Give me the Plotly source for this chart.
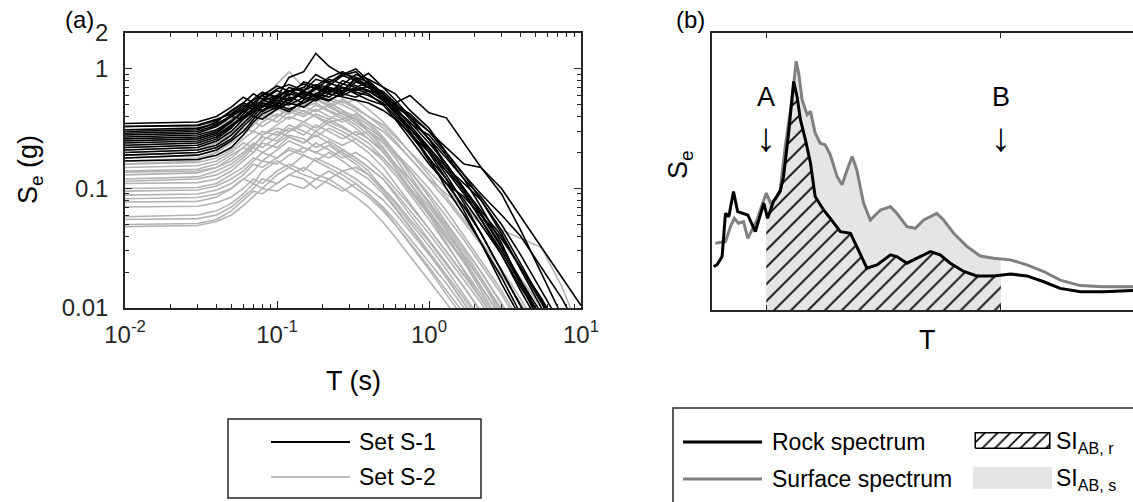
import numpy as np
import plotly.graph_objects as go

W, H = 1133, 502
FONT = "Liberation Sans, Arial, Helvetica, sans-serif"
AX = "#262626"

# ---------------- panel (a) data ----------------
periods = [0.01, 0.03, 0.04, 0.05, 0.06, 0.07, 0.08, 0.1, 0.12, 0.15, 0.18, 0.22, 0.27,
           0.33, 0.4, 0.5, 0.6, 0.75, 1.0, 1.3, 1.7, 2.2, 3.0, 4.0, 5.5, 7.5, 10.0]

set_s1 = [
    [0.30,0.31,0.36,0.45,0.52,0.48,0.62,0.58,0.85,0.95,1.35,1.05,0.90,1.00,0.80,0.62,0.45,0.30,0.18,0.10,0.060,0.035,0.018,0.009,0.005,0.003,0.002],
    [0.25,0.26,0.29,0.36,0.44,0.52,0.48,0.60,0.66,0.56,0.72,0.66,0.70,0.62,0.55,0.50,0.52,0.60,0.43,0.39,0.24,0.15,0.10,0.058,0.032,0.018,0.0105],
    [0.33,0.34,0.38,0.42,0.50,0.46,0.55,0.66,0.60,0.78,0.72,0.85,0.95,0.80,0.70,0.62,0.50,0.40,0.30,0.22,0.16,0.15,0.090,0.045,0.020,0.009,0.004],
    [0.35,0.36,0.40,0.48,0.58,0.52,0.60,0.72,0.65,0.70,0.90,0.78,0.88,0.95,0.75,0.60,0.45,0.32,0.20,0.12,0.065,0.035,0.016,0.008,0.004,0.002,0.001],
    [0.28,0.29,0.33,0.40,0.38,0.47,0.55,0.50,0.62,0.58,0.68,0.82,0.75,0.70,0.78,0.55,0.42,0.30,0.17,0.11,0.070,0.042,0.020,0.010,0.005,0.0025,0.0013],
    [0.22,0.23,0.26,0.32,0.42,0.50,0.45,0.55,0.52,0.65,0.60,0.72,0.88,0.80,0.92,0.70,0.55,0.40,0.26,0.15,0.095,0.055,0.028,0.014,0.007,0.0035,0.0018],
    [0.20,0.21,0.23,0.28,0.35,0.42,0.50,0.46,0.58,0.52,0.62,0.70,0.66,0.82,0.74,0.58,0.46,0.36,0.24,0.16,0.10,0.062,0.033,0.017,0.008,0.004,0.002],
    [0.17,0.175,0.19,0.22,0.28,0.36,0.42,0.48,0.44,0.55,0.62,0.58,0.70,0.64,0.60,0.52,0.40,0.28,0.18,0.12,0.080,0.050,0.028,0.015,0.008,0.004,0.002],
    [0.31,0.32,0.35,0.40,0.46,0.55,0.60,0.52,0.65,0.75,0.68,0.62,0.80,0.72,0.66,0.54,0.46,0.35,0.28,0.19,0.12,0.070,0.035,0.016,0.007,0.003,0.0015],
    [0.26,0.27,0.30,0.36,0.45,0.40,0.48,0.58,0.66,0.60,0.70,0.64,0.74,0.90,0.82,0.70,0.62,0.45,0.32,0.20,0.13,0.080,0.042,0.021,0.010,0.005,0.0025],
    [0.19,0.20,0.22,0.26,0.33,0.40,0.38,0.46,0.52,0.48,0.56,0.66,0.60,0.68,0.62,0.50,0.38,0.26,0.16,0.11,0.085,0.060,0.038,0.022,0.012,0.006,0.003],
    [0.24,0.25,0.28,0.34,0.40,0.47,0.44,0.52,0.50,0.58,0.54,0.62,0.58,0.55,0.52,0.45,0.38,0.29,0.20,0.14,0.10,0.065,0.040,0.022,0.011,0.0055,0.0028],
    [0.29,0.30,0.34,0.41,0.48,0.56,0.64,0.58,0.54,0.66,0.74,0.70,0.64,0.85,0.78,0.62,0.48,0.34,0.22,0.14,0.090,0.055,0.030,0.016,0.008,0.004,0.002],
    [0.18,0.19,0.21,0.25,0.30,0.38,0.45,0.50,0.46,0.52,0.58,0.54,0.64,0.70,0.65,0.55,0.44,0.32,0.21,0.13,0.075,0.042,0.020,0.010,0.005,0.0025,0.0012],
    [0.27,0.28,0.31,0.37,0.44,0.52,0.48,0.56,0.70,0.64,0.60,0.76,0.70,0.66,0.72,0.65,0.52,0.38,0.26,0.18,0.12,0.085,0.050,0.028,0.014,0.007,0.0035],
    [0.33,0.335,0.37,0.44,0.52,0.62,0.56,0.68,0.74,0.66,0.82,0.76,0.92,0.85,0.70,0.56,0.44,0.32,0.22,0.15,0.11,0.080,0.045,0.024,0.012,0.006,0.003],
    [0.21,0.22,0.25,0.30,0.38,0.44,0.52,0.48,0.56,0.62,0.58,0.68,0.62,0.58,0.66,0.60,0.50,0.42,0.30,0.20,0.13,0.090,0.060,0.040,0.022,0.012,0.006],
    [0.23,0.24,0.27,0.33,0.39,0.46,0.54,0.60,0.55,0.64,0.60,0.55,0.62,0.78,0.70,0.58,0.48,0.40,0.26,0.16,0.10,0.060,0.032,0.017,0.009,0.0045,0.0023],
]

set_s2 = [
    [0.16,0.17,0.20,0.28,0.36,0.45,0.55,0.75,0.95,0.70,0.60,0.52,0.45,0.40,0.30,0.22,0.15,0.10,0.060,0.035,0.020,0.012,0.0065,0.0035,0.0018,0.001,0.0005],
    [0.30,0.31,0.34,0.40,0.48,0.55,0.50,0.62,0.58,0.66,0.60,0.55,0.50,0.44,0.36,0.27,0.20,0.13,0.075,0.045,0.026,0.015,0.008,0.0045,0.0022,0.0012,0.0006],
    [0.28,0.29,0.33,0.38,0.45,0.42,0.52,0.60,0.55,0.50,0.58,0.48,0.42,0.38,0.30,0.22,0.16,0.11,0.065,0.040,0.024,0.014,0.0075,0.004,0.002,0.001,0.0005],
    [0.25,0.26,0.29,0.33,0.40,0.47,0.44,0.50,0.56,0.48,0.52,0.45,0.40,0.34,0.28,0.21,0.16,0.11,0.070,0.045,0.028,0.017,0.009,0.005,0.0025,0.0013,0.0007],
    [0.23,0.24,0.27,0.30,0.36,0.42,0.40,0.46,0.52,0.48,0.44,0.50,0.42,0.36,0.30,0.24,0.18,0.12,0.075,0.048,0.030,0.018,0.010,0.0055,0.0028,0.0014,0.0007],
    [0.21,0.22,0.24,0.28,0.34,0.38,0.44,0.40,0.48,0.44,0.40,0.36,0.38,0.32,0.26,0.20,0.15,0.10,0.062,0.040,0.025,0.015,0.0085,0.0045,0.0022,0.0011,0.0006],
    [0.19,0.20,0.22,0.26,0.32,0.30,0.36,0.42,0.38,0.45,0.40,0.34,0.30,0.26,0.22,0.17,0.13,0.090,0.055,0.034,0.021,0.013,0.007,0.0038,0.0019,0.001,0.0005],
    [0.17,0.18,0.20,0.24,0.28,0.34,0.40,0.36,0.44,0.40,0.46,0.40,0.36,0.40,0.34,0.26,0.20,0.14,0.085,0.052,0.032,0.020,0.011,0.006,0.003,0.0015,0.0008],
    [0.16,0.165,0.18,0.21,0.26,0.30,0.28,0.34,0.40,0.36,0.32,0.38,0.33,0.28,0.24,0.18,0.14,0.095,0.060,0.038,0.024,0.015,0.0085,0.0047,0.0024,0.0012,0.0006],
    [0.15,0.155,0.17,0.20,0.24,0.22,0.28,0.32,0.30,0.36,0.42,0.38,0.44,0.38,0.32,0.26,0.20,0.15,0.10,0.065,0.040,0.025,0.014,0.0075,0.0037,0.0018,0.0009],
    [0.14,0.145,0.16,0.19,0.22,0.26,0.30,0.28,0.34,0.30,0.27,0.32,0.28,0.24,0.20,0.15,0.11,0.075,0.046,0.030,0.019,0.012,0.0065,0.0035,0.0018,0.0009,0.0005],
    [0.137,0.14,0.15,0.17,0.20,0.24,0.22,0.27,0.32,0.28,0.34,0.30,0.26,0.30,0.26,0.21,0.16,0.12,0.078,0.050,0.032,0.020,0.011,0.006,0.003,0.0015,0.0008],
    [0.13,0.135,0.15,0.18,0.22,0.20,0.25,0.30,0.27,0.24,0.28,0.24,0.20,0.17,0.14,0.10,0.075,0.052,0.033,0.021,0.013,0.0082,0.0045,0.0024,0.0012,0.0006,0.0003],
    [0.12,0.125,0.14,0.16,0.19,0.23,0.27,0.25,0.30,0.34,0.30,0.36,0.32,0.28,0.30,0.25,0.19,0.14,0.090,0.058,0.037,0.023,0.013,0.007,0.0035,0.0018,0.0009],
    [0.115,0.12,0.13,0.15,0.18,0.22,0.20,0.24,0.28,0.26,0.22,0.25,0.21,0.18,0.15,0.12,0.088,0.060,0.037,0.024,0.015,0.0094,0.0052,0.0028,0.0014,0.0007,0.0004],
    [0.11,0.112,0.12,0.14,0.17,0.20,0.24,0.22,0.27,0.24,0.30,0.26,0.23,0.26,0.22,0.18,0.14,0.10,0.065,0.042,0.027,0.017,0.0095,0.005,0.0025,0.0013,0.0007],
    [0.10,0.102,0.11,0.13,0.15,0.18,0.17,0.21,0.25,0.22,0.20,0.23,0.19,0.16,0.13,0.095,0.070,0.048,0.030,0.019,0.012,0.0075,0.0041,0.0022,0.0011,0.0006,0.0003],
    [0.095,0.097,0.105,0.12,0.14,0.17,0.20,0.18,0.22,0.20,0.24,0.21,0.18,0.20,0.17,0.13,0.10,0.072,0.046,0.030,0.019,0.012,0.0066,0.0035,0.0018,0.0009,0.0005],
    [0.088,0.09,0.097,0.11,0.13,0.16,0.15,0.18,0.21,0.19,0.17,0.20,0.17,0.14,0.12,0.09,0.068,0.047,0.029,0.018,0.011,0.0070,0.0038,0.002,0.001,0.0005,0.0003],
    [0.082,0.084,0.09,0.10,0.12,0.14,0.17,0.16,0.19,0.22,0.20,0.18,0.21,0.18,0.15,0.12,0.092,0.065,0.042,0.027,0.017,0.011,0.006,0.0032,0.0016,0.0008,0.0004],
    [0.077,0.078,0.085,0.10,0.12,0.11,0.14,0.17,0.15,0.19,0.17,0.15,0.13,0.11,0.09,0.068,0.050,0.034,0.021,0.013,0.0083,0.0052,0.0028,0.0015,0.0008,0.0004,0.0002],
    [0.07,0.071,0.076,0.085,0.10,0.12,0.11,0.14,0.16,0.14,0.18,0.16,0.14,0.15,0.13,0.10,0.078,0.055,0.036,0.023,0.015,0.0092,0.0051,0.0027,0.0014,0.0007,0.0004],
    [0.058,0.06,0.065,0.075,0.09,0.11,0.10,0.13,0.15,0.13,0.12,0.14,0.12,0.10,0.085,0.065,0.050,0.035,0.022,0.014,0.009,0.0056,0.0031,0.0017,0.0008,0.0004,0.0002],
    [0.055,0.056,0.06,0.07,0.085,0.10,0.12,0.11,0.13,0.15,0.13,0.12,0.14,0.12,0.10,0.08,0.062,0.044,0.028,0.018,0.011,0.007,0.0039,0.0021,0.0011,0.0005,0.0003],
    [0.05,0.051,0.055,0.065,0.08,0.095,0.09,0.11,0.13,0.12,0.10,0.12,0.10,0.085,0.07,0.052,0.039,0.027,0.017,0.011,0.0068,0.0042,0.0023,0.0012,0.0006,0.0003,0.0002],
    [0.048,0.049,0.053,0.06,0.072,0.085,0.10,0.095,0.11,0.10,0.12,0.11,0.095,0.11,0.09,0.07,0.054,0.038,0.024,0.016,0.010,0.0062,0.0034,0.0018,0.0009,0.0005,0.0002],
    [0.20,0.21,0.24,0.29,0.35,0.42,0.50,0.46,0.55,0.62,0.56,0.50,0.56,0.48,0.40,0.32,0.25,0.18,0.12,0.080,0.052,0.034,0.019,0.011,0.0055,0.0028,0.0014],
    [0.18,0.19,0.21,0.25,0.30,0.36,0.33,0.40,0.46,0.42,0.50,0.44,0.38,0.42,0.36,0.30,0.24,0.18,0.12,0.090,0.070,0.055,0.045,0.038,0.032,0.015,0.006],
    [0.26,0.27,0.30,0.35,0.42,0.50,0.58,0.54,0.62,0.70,0.64,0.58,0.52,0.55,0.46,0.36,0.28,0.20,0.13,0.085,0.055,0.036,0.021,0.012,0.006,0.003,0.0015],
    [0.22,0.23,0.25,0.29,0.35,0.42,0.38,0.46,0.42,0.50,0.56,0.48,0.54,0.46,0.40,0.34,0.27,0.20,0.14,0.10,0.070,0.050,0.030,0.018,0.010,0.005,0.0025],
]

x_ticks_a = [0.01, 0.1, 1, 10]
x_ticktext_a = ["10<sup>-2</sup>", "10<sup>-1</sup>", "10<sup>0</sup>", "10<sup>1</sup>"]
y_ticks_a = [0.01, 0.1, 1, 2]
y_ticktext_a = ["0.01", "0.1", "1", "2"]

# ---------------- panel (b) data (arbitrary T units) ----------------
rock_T = [0.04,0.12,0.24,0.32,0.40,0.51,0.61,0.71,0.85,1.03,1.15,1.23,1.32,1.46,1.62,1.70,1.82,1.94,2.02,2.10,
          2.22,2.34,2.45,2.65,2.81,3.05,3.29,3.44,3.68,3.92,4.24,4.39,4.63,4.87,5.19,5.42,5.66,5.98,6.29,6.69,
          7.09,7.48,7.88,8.27,8.75,9.30,10.0]
rock_Se = [0.157,0.163,0.193,0.349,0.337,0.428,0.355,0.349,0.343,0.283,0.349,0.386,0.331,0.392,0.428,0.482,0.639,0.825,0.771,0.687,
           0.614,0.530,0.410,0.361,0.331,0.283,0.277,0.229,0.151,0.163,0.199,0.193,0.169,0.187,0.211,0.199,0.169,0.139,0.123,0.123,
           0.130,0.123,0.102,0.078,0.066,0.066,0.070]
surface_T = [0.08,0.32,0.44,0.53,0.63,0.75,0.85,0.99,1.07,1.19,1.29,1.39,1.50,1.62,1.74,1.90,2.00,2.06,2.14,2.26,
             2.34,2.45,2.57,2.69,2.81,2.97,3.09,3.21,3.33,3.44,3.60,3.76,4.00,4.24,4.39,4.63,4.83,5.03,5.34,5.50,
             5.74,6.06,6.37,6.69,7.09,7.48,7.88,8.27,8.75,9.30,10.0]
surface_Se = [0.241,0.247,0.301,0.331,0.313,0.319,0.259,0.301,0.325,0.380,0.422,0.386,0.398,0.434,0.590,0.759,0.898,0.855,0.759,0.705,
              0.717,0.639,0.602,0.596,0.560,0.482,0.452,0.506,0.554,0.506,0.386,0.325,0.361,0.373,0.349,0.301,0.295,0.325,0.349,0.325,
              0.277,0.229,0.195,0.187,0.181,0.163,0.139,0.108,0.088,0.084,0.084]
T_A, T_B = 1.29, 6.86


def px_x(p):
    return p / W


def px_y(p):
    return 1 - p / H


def band(T, S, a, b):
    T = np.asarray(T, float)
    S = np.asarray(S, float)
    inside = (T > a) & (T < b)
    xs = np.concatenate([[a], T[inside], [b]])
    ys = np.interp(xs, T, S)
    return xs, ys


fig = go.Figure()

# panel (a) curves
for s in set_s2:
    fig.add_trace(go.Scatter(x=periods, y=s, mode="lines", line=dict(color="#b3b3b3", width=1.6),
                             xaxis="x", yaxis="y", showlegend=False, hoverinfo="skip"))
for s in set_s1:
    fig.add_trace(go.Scatter(x=periods, y=s, mode="lines", line=dict(color="#000000", width=1.6),
                             xaxis="x", yaxis="y", showlegend=False, hoverinfo="skip"))

# panel (b) fills
sx, sy = band(surface_T, surface_Se, T_A, T_B)
fig.add_trace(go.Scatter(x=sx, y=sy, mode="none", fill="tozeroy", fillcolor="#e5e5e5",
                         xaxis="x2", yaxis="y2", showlegend=False, hoverinfo="skip"))
rx, ry = band(rock_T, rock_Se, T_A, T_B)
fig.add_trace(go.Scatter(x=rx, y=ry, mode="none", fill="tozeroy", fillcolor="#e5e5e5",
                         fillpattern=dict(shape="/", fgcolor="#000000", bgcolor="#e5e5e5", size=12, solidity=0.15),
                         xaxis="x2", yaxis="y2", showlegend=False, hoverinfo="skip"))
fig.add_trace(go.Scatter(x=surface_T, y=surface_Se, mode="lines", line=dict(color="#808080", width=3),
                         xaxis="x2", yaxis="y2", showlegend=False, hoverinfo="skip"))
fig.add_trace(go.Scatter(x=rock_T, y=rock_Se, mode="lines", line=dict(color="#000000", width=3),
                         xaxis="x2", yaxis="y2", showlegend=False, hoverinfo="skip"))

# hatched legend swatch (tiny hidden axes)
fig.add_trace(go.Scatter(x=[0, 1, 1, 0, 0], y=[0, 0, 1, 1, 0], mode="lines", fill="toself",
                         fillcolor="#ffffff",
                         fillpattern=dict(shape="/", fgcolor="#000000", bgcolor="#ffffff", size=9, solidity=0.18),
                         line=dict(color="#000000", width=1.5),
                         xaxis="x3", yaxis="y3", showlegend=False, hoverinfo="skip"))

tickfont = dict(family=FONT, size=24, color=AX)
common = dict(showline=True, linecolor=AX, linewidth=1.5, showgrid=False, zeroline=False,
              ticks="inside", tickcolor=AX, tickwidth=1.2, automargin=False)

fig.update_layout(
    template="none",
    width=W, height=H, margin=dict(l=0, r=0, t=0, b=0, pad=0, autoexpand=False),
    paper_bgcolor="white", plot_bgcolor="white", showlegend=False,
    font=dict(family=FONT, color="#000000", size=24),
    xaxis=dict(type="log", range=[-2, 1], domain=[px_x(125), px_x(581)], anchor="y",
               mirror="allticks", ticklen=7, tickvals=x_ticks_a, ticktext=x_ticktext_a,
               tickfont=tickfont, ticklabelstandoff=4,
               minor=dict(ticks="inside", ticklen=4, tickcolor=AX, tickwidth=1.2, dtick="D1", showgrid=False),
               **common),
    yaxis=dict(type="log", range=[-2, np.log10(2)], domain=[px_y(308), px_y(33)], anchor="x",
               mirror="allticks", ticklen=7, tickvals=y_ticks_a, ticktext=y_ticktext_a,
               tickfont=tickfont, ticklabelstandoff=10,
               minor=dict(ticks="inside", ticklen=4, tickcolor=AX, tickwidth=1.2, dtick="D1", showgrid=False),
               **common),
    xaxis2=dict(range=[0, 10], domain=[px_x(712), 1.0], anchor="y2", mirror="ticks", ticklen=5,
                tickmode="array", tickvals=[T_A, T_B], showticklabels=False, **common),
    yaxis2=dict(range=[0, 1], domain=[px_y(310), px_y(33)], anchor="x2", showline=True, linecolor=AX,
                linewidth=1.5, showgrid=False, zeroline=False, ticks="", showticklabels=False,
                automargin=False),
    xaxis3=dict(range=[-0.03, 1.03], domain=[px_x(973), px_x(1052)], anchor="y3", visible=False,
                automargin=False),
    yaxis3=dict(range=[-0.05, 1.05], domain=[px_y(449), px_y(432)], anchor="x3", visible=False,
                automargin=False),
)

ann = []


def text(t, x, y, size=24, xanchor="center", angle=0, xref="paper", yref="paper", family=FONT):
    ann.append(dict(text=t, x=x, y=y, xref=xref, yref=yref, showarrow=False, xanchor=xanchor,
                    yanchor="middle", textangle=angle, font=dict(family=family, size=size, color="#000000")))


text("(a)", px_x(79), px_y(20), 24)
text("(b)", px_x(690), px_y(20), 24)
text("T (s)", px_x(353), px_y(381), 27)
text("S<sub>e</sub> (g)", px_x(30), px_y(170), 27, angle=-90)
text("T", px_x(927), px_y(340), 27)
text("S<sub>e</sub>", px_x(680), px_y(165), 27, angle=-90)
text("A", T_A, px_y(97), 27, xref="x2")
text("↓", T_A, px_y(137), 40, xref="x2")
text("B", T_B, px_y(97), 27, xref="x2")
text("↓", T_B, px_y(137), 40, xref="x2")
# legends
text("Set S-1", px_x(357), px_y(442), 23, xanchor="left")
text("Set S-2", px_x(357), px_y(477), 23, xanchor="left")
text("Rock spectrum", px_x(770), px_y(442), 23, xanchor="left")
text("Surface spectrum", px_x(770), px_y(479), 23, xanchor="left")
text("SI<sub>AB, r</sub>", px_x(1054), px_y(442), 23, xanchor="left")
text("SI<sub>AB, s</sub>", px_x(1054), px_y(479), 23, xanchor="left")
fig.update_layout(annotations=ann)

shapes = [
    dict(type="rect", xref="paper", yref="paper", x0=px_x(228), x1=px_x(481), y0=px_y(498), y1=px_y(419),
         line=dict(color=AX, width=1.5), fillcolor="rgba(0,0,0,0)"),
    dict(type="line", xref="paper", yref="paper", x0=px_x(271), x1=px_x(350), y0=px_y(442), y1=px_y(442),
         line=dict(color="#000000", width=2)),
    dict(type="line", xref="paper", yref="paper", x0=px_x(271), x1=px_x(350), y0=px_y(477), y1=px_y(477),
         line=dict(color="#bdbdbd", width=2)),
    dict(type="rect", xref="paper", yref="paper", x0=px_x(673), x1=1.02, y0=-0.02, y1=px_y(408),
         line=dict(color=AX, width=1.5), fillcolor="rgba(0,0,0,0)"),
    dict(type="line", xref="paper", yref="paper", x0=px_x(683), x1=px_x(762), y0=px_y(442), y1=px_y(442),
         line=dict(color="#000000", width=3)),
    dict(type="line", xref="paper", yref="paper", x0=px_x(683), x1=px_x(762), y0=px_y(479), y1=px_y(479),
         line=dict(color="#808080", width=3)),
    dict(type="rect", xref="paper", yref="paper", x0=px_x(973), x1=px_x(1052), y0=px_y(489), y1=px_y(467),
         line=dict(width=0), fillcolor="#e5e5e5"),
]
fig.update_layout(shapes=shapes)

fig.write_html("out.html")
